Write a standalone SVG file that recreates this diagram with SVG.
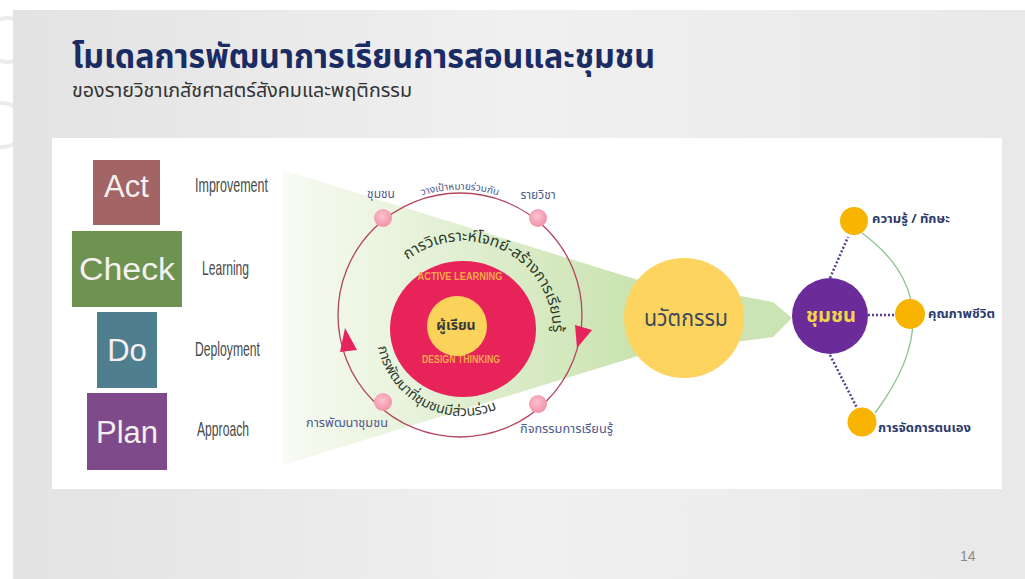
<svg xmlns="http://www.w3.org/2000/svg" width="1025" height="579" viewBox="0 0 1025 579">
<defs>
<linearGradient id="slideBg" x1="0" y1="0" x2="1" y2="0">
<stop offset="0" stop-color="#e3e3e3"/>
<stop offset="0.5" stop-color="#f0f0f0"/>
<stop offset="1" stop-color="#e9e9e9"/>
</linearGradient>
<linearGradient id="funnel" gradientUnits="userSpaceOnUse" x1="283" y1="0" x2="650" y2="0">
<stop offset="0" stop-color="#f8fbf3"/>
<stop offset="1" stop-color="#c8e2ad"/>
</linearGradient>
<radialGradient id="pinkDot" cx="0.45" cy="0.4" r="0.6">
<stop offset="0" stop-color="#fbc3cf"/>
<stop offset="1" stop-color="#f291a8"/>
</radialGradient>
<path id="arcTop" d="M 407.6 260.1 A 90 90 0 0 1 546.4 364.7"/>
<path id="arcBottom" d="M 377.9 347.1 A 87 87 0 0 0 527.7 387.2"/>
<path id="arcRing" d="M 410 200 A 126 126 0 0 1 510 200"/>
<style>
.thai{font-family:"Noto Sans Thai","Noto Sans","Liberation Sans",sans-serif;}
.pdca{font-family:"Liberation Sans",Arial,sans-serif;font-size:31px;fill:#f5f0f0;text-anchor:middle;}
.phase{font-family:"Liberation Sans",Arial,sans-serif;font-size:21px;fill:#4a4a4a;}
.ringLbl{font-size:12px;fill:#4d5b8c;}
.rightLbl{font-size:13px;font-weight:bold;fill:#2c3a6d;}
.dot{fill:url(#pinkDot);}
.orange{fill:#f8b400;}
.dotted{stroke:#5b3b8c;stroke-width:2.5;stroke-dasharray:2 2;fill:none;}
</style>
</defs>

<!-- page background -->
<rect x="0" y="0" width="1025" height="579" fill="#ffffff"/>
<g id="watermark" fill="none" stroke="#ebebeb" stroke-width="4">
<circle cx="8" cy="40" r="22"/>
<circle cx="2" cy="125" r="22"/>
</g>
<rect id="slide" x="13" y="10" width="1012" height="569" fill="url(#slideBg)"/>

<!-- title -->
<g id="title">
<text class="thai" x="72" y="68" font-size="34" font-weight="bold" fill="#1b2b63" textLength="583" lengthAdjust="spacingAndGlyphs">โมเดลการพัฒนาการเรียนการสอนและชุมชน</text>
<text class="thai" x="72" y="97" font-size="19" fill="#333333" textLength="340" lengthAdjust="spacingAndGlyphs">ของรายวิชาเภสัชศาสตร์สังคมและพฤติกรรม</text>
</g>

<!-- white panel -->
<rect id="panel" x="52" y="138" width="950" height="351" fill="#ffffff"/>

<!-- PDCA -->
<g id="act">
<rect x="93" y="160" width="67" height="65" fill="#a26464"/>
<text class="pdca" x="126.5" y="197">Act</text>
</g>
<g id="check">
<rect x="72" y="231" width="110" height="76" fill="#6e9250"/>
<text class="pdca" x="127" y="280" textLength="96" lengthAdjust="spacingAndGlyphs">Check</text>
</g>
<g id="do">
<rect x="97" y="312" width="60" height="76" fill="#4f7f8f"/>
<text class="pdca" x="127" y="361">Do</text>
</g>
<g id="plan">
<rect x="87" y="393" width="80" height="77" fill="#7e4a89"/>
<text class="pdca" x="127" y="443">Plan</text>
</g>
<g id="phases">
<text class="phase" x="195" y="192" textLength="73" lengthAdjust="spacingAndGlyphs">Improvement</text>
<text class="phase" x="202" y="275" textLength="47" lengthAdjust="spacingAndGlyphs">Learning</text>
<text class="phase" x="195" y="356" textLength="65" lengthAdjust="spacingAndGlyphs">Deployment</text>
<text class="phase" x="197" y="436" textLength="52" lengthAdjust="spacingAndGlyphs">Approach</text>
</g>

<!-- funnel shapes -->
<g id="funnelShapes">
<polygon points="283,170 690,296 690,340 283,465" fill="url(#funnel)"/>
<polygon points="735,295 773,302 792,318 773,337 735,342" fill="#cce4b4"/>
</g>

<!-- connectors -->
<g id="connectors">
<circle cx="460" cy="315" r="122" fill="none" stroke="#b2465f" stroke-width="1.3"/>
<polygon points="575,325 592,330 577,348" fill="#e5245c"/>
<polygon points="345,328 340,352 357,350" fill="#e5245c"/>
<line class="dotted" x1="830" y1="278" x2="848" y2="237"/>
<line class="dotted" x1="868" y1="315" x2="895" y2="315"/>
<line class="dotted" x1="830" y1="355" x2="857" y2="408"/>
<path d="M 862 233 Q 957 303 875 413" fill="none" stroke="#8cc48c" stroke-width="1.3"/>
</g>

<!-- ring nodes -->
<g id="ringNodes">
<circle class="dot" cx="383" cy="218" r="9"/>
<circle class="dot" cx="538" cy="218" r="9"/>
<circle class="dot" cx="383" cy="402" r="9"/>
<circle class="dot" cx="538" cy="404" r="9"/>
</g>
<g id="ringLabels">
<text class="thai ringLbl" x="381" y="198" text-anchor="middle">ชุมชน</text>
<text class="thai ringLbl" x="538" y="199" text-anchor="middle">รายวิชา</text>
<text class="thai ringLbl" x="306" y="427" textLength="82" lengthAdjust="spacingAndGlyphs">การพัฒนาชุมชน</text>
<text class="thai ringLbl" x="520" y="433" textLength="93" lengthAdjust="spacingAndGlyphs">กิจกรรมการเรียนรู้</text>
<text class="thai" font-size="10" fill="#4d5b8c"><textPath href="#arcRing" startOffset="50%" text-anchor="middle">วางเป้าหมายร่วมกัน</textPath></text>
</g>

<!-- core -->
<g id="core">
<ellipse cx="463" cy="329" rx="73" ry="68" fill="#e8235a"/>
<text x="460" y="280" font-family="Liberation Sans,Arial,sans-serif" font-size="11" font-weight="bold" fill="#f7a84a" text-anchor="middle" textLength="85" lengthAdjust="spacingAndGlyphs">ACTIVE LEARNING</text>
<text x="461" y="363" font-family="Liberation Sans,Arial,sans-serif" font-size="10.5" font-weight="bold" fill="#f7a84a" text-anchor="middle" textLength="78" lengthAdjust="spacingAndGlyphs">DESIGN THINKING</text>
</g>
<g id="learner">
<circle cx="457" cy="326" r="30" fill="#fbd35a"/>
<text class="thai" x="456" y="330" font-size="14" font-weight="bold" fill="#3a3a3a" text-anchor="middle">ผู้เรียน</text>
</g>
<g id="curvedTexts">
<text class="thai" font-size="15.5" fill="#2d3a2d"><textPath href="#arcTop">การวิเคราะห์โจทย์-สร้างการเรียนรู้</textPath></text>
<text class="thai" font-size="14" fill="#2d3a2d"><textPath href="#arcBottom">การพัฒนาที่ชุมชนมีส่วนร่วม</textPath></text>
</g>

<!-- innovation -->
<g id="innovation">
<circle cx="684" cy="318" r="60" fill="#fcd45f"/>
<text class="thai" x="686" y="326" font-size="23" fill="#3d4a5c" text-anchor="middle" textLength="84" lengthAdjust="spacingAndGlyphs">นวัตกรรม</text>
</g>

<!-- community -->
<g id="community">
<circle cx="830" cy="316" r="38" fill="#6b2c99"/>
<text class="thai" x="831" y="322" font-size="20" font-weight="bold" fill="#f3d54a" text-anchor="middle">ชุมชน</text>
</g>

<!-- outcomes -->
<g id="knowledge">
<circle class="orange" cx="854" cy="221" r="14"/>
<text class="thai rightLbl" x="872" y="223">ความรู้ / ทักษะ</text>
</g>
<g id="quality">
<circle class="orange" cx="910" cy="314" r="15"/>
<text class="thai rightLbl" x="928" y="318">คุณภาพชีวิต</text>
</g>
<g id="selfmanage">
<circle class="orange" cx="862" cy="422" r="14.5"/>
<text class="thai rightLbl" x="878" y="432">การจัดการตนเอง</text>
</g>

<text id="pageNum" x="960" y="561" font-family="Liberation Sans,Arial,sans-serif" font-size="14" fill="#8a8a8a">14</text>
</svg>
